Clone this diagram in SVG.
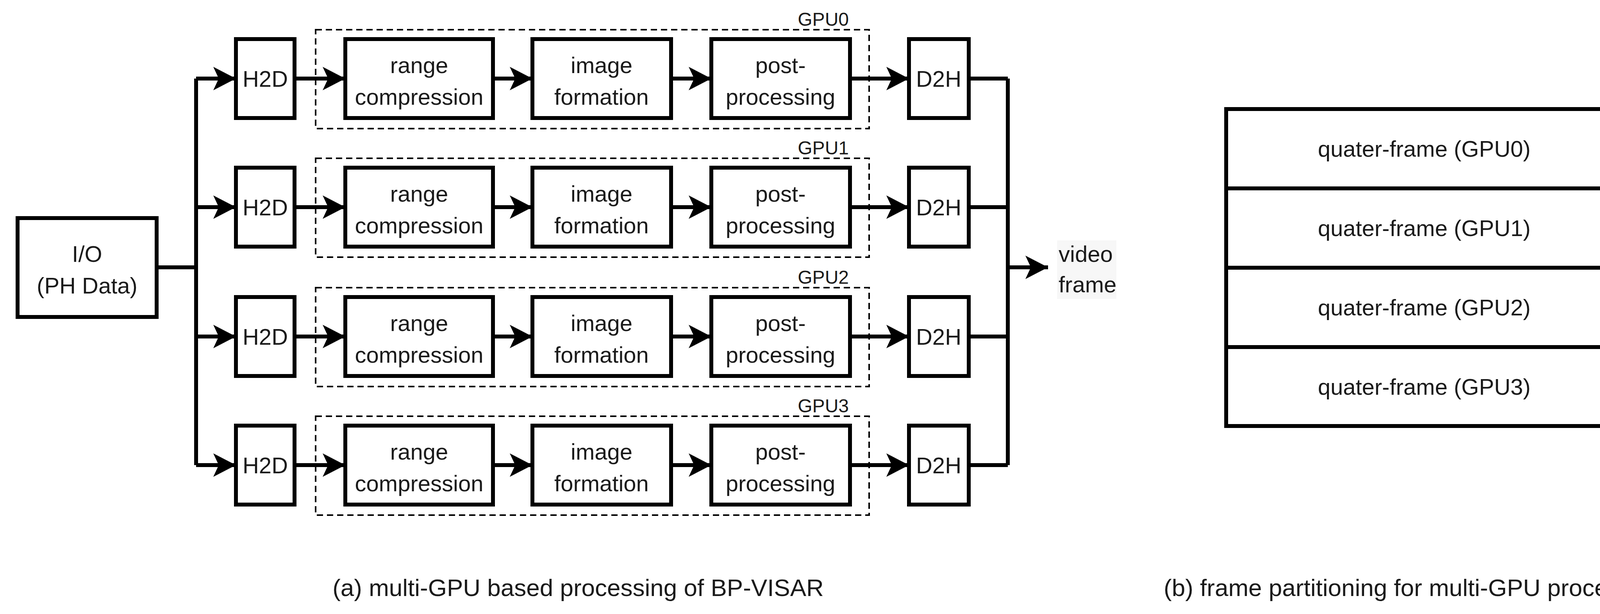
<svg xmlns="http://www.w3.org/2000/svg" width="4371" height="1571" viewBox="0 0 4371 1571">
<style>
.b{fill:#fff;stroke:#000;stroke-width:10}
.d{fill:none;stroke:#000;stroke-width:4;stroke-dasharray:16 10}
.c{fill:none;stroke:#000;stroke-width:10}
.e{fill:none;stroke:#000;stroke-width:10;marker-end:url(#a)}
text{font-family:"Liberation Sans",Arial,sans-serif;font-size:58px;fill:#1a1a1a}
.m{text-anchor:middle}
.g{font-size:48px;text-anchor:end}
.cap{font-size:62px;text-anchor:middle}
</style>
<defs>
<marker id="a" markerUnits="userSpaceOnUse" markerWidth="70" markerHeight="70" viewBox="0 -35 62 70" refX="58" refY="0" orient="auto">
<path d="M0,-30 L58,0 L0,30 L14,0 Z" fill="#000"/>
</marker>
<g id="row">
<rect class="d" x="808" y="76" width="1417" height="253"/>
<rect class="b" x="604" y="100" width="150" height="202"/>
<text class="m" x="679" y="222">H2D</text>
<rect class="b" x="884" y="100" width="378" height="202"/>
<text class="m" x="1073" y="187">range</text>
<text class="m" x="1073" y="268">compression</text>
<rect class="b" x="1363" y="100" width="355" height="202"/>
<text class="m" x="1540" y="187">image</text>
<text class="m" x="1540" y="268">formation</text>
<rect class="b" x="1821" y="100" width="355" height="202"/>
<text class="m" x="1998" y="187">post-</text>
<text class="m" x="1998" y="268">processing</text>
<rect class="b" x="2327" y="100" width="153" height="202"/>
<text class="m" x="2403" y="222">D2H</text>
<path class="e" d="M754,201 H884"/>
<path class="e" d="M1262,201 H1363"/>
<path class="e" d="M1718,201 H1821"/>
<path class="e" d="M2176,201 H2327"/>
</g>
</defs>
<g id="connectors">
<path class="c" d="M401,684 H502 M502,201 V1190 M2480,201 H2580 M2480,530 H2580 M2480,861 H2580 M2480,1190 H2580 M2580,201 V1190"/>
<path class="e" d="M502,201 H604"/>
<path class="e" d="M502,530 H604"/>
<path class="e" d="M502,861 H604"/>
<path class="e" d="M502,1190 H604"/>
<path class="e" d="M2580,684 H2683"/>
</g>
<g id="io"><rect class="b" x="45" y="558" width="356" height="253"/>
<text class="m" x="223" y="670">I/O</text><text class="m" x="223" y="751">(PH Data)</text></g>
<g id="gpu0"><use href="#row"/><text class="g" x="2173" y="66">GPU0</text></g>
<g id="gpu1"><use href="#row" y="329"/><text class="g" x="2173" y="395">GPU1</text></g>
<g id="gpu2"><use href="#row" y="660"/><text class="g" x="2173" y="726">GPU2</text></g>
<g id="gpu3"><use href="#row" y="989"/><text class="g" x="2173" y="1055">GPU3</text></g>
<g id="video"><rect x="2706" y="615" width="152" height="150" fill="#f7f7f7"/>
<text x="2710" y="670">video</text><text x="2710" y="748">frame</text></g>
<g id="frame">
<rect class="b" x="3139" y="279" width="1015" height="811"/>
<path class="c" d="M3139,482 H4154 M3139,685 H4154 M3139,888 H4154"/>
<text class="m" x="3646" y="401">quater-frame (GPU0)</text>
<text class="m" x="3646" y="604">quater-frame (GPU1)</text>
<text class="m" x="3646" y="807">quater-frame (GPU2)</text>
<text class="m" x="3646" y="1010">quater-frame (GPU3)</text>
</g>
<text class="cap" x="1480" y="1525">(a) multi-GPU based processing of BP-VISAR</text>
<text class="cap" x="3620" y="1525">(b) frame partitioning for multi-GPU processing</text>
</svg>
